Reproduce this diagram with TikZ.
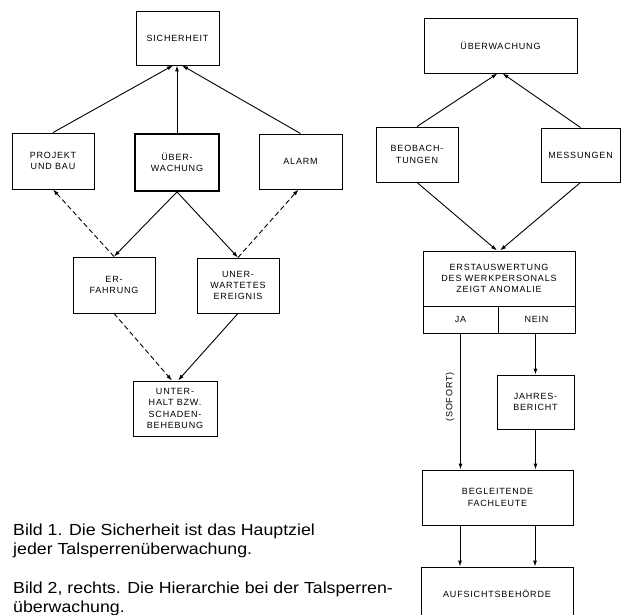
\documentclass[tikz,border=0pt]{standalone}
\usepackage{fontspec}
\setmainfont{Liberation Sans}
\newfontfamily\boxfont[LetterSpace=9]{Liberation Sans}
\newfontfamily\capfont[FakeStretch=1.11]{Liberation Sans}
\usetikzlibrary{arrows.meta}
\begin{document}
\begin{tikzpicture}[x=1pt,y=-1pt,
  bx/.style={draw, line width=0.9pt, inner sep=0pt, align=center,
    font=\boxfont\fontsize{9}{11.3}\selectfont},
  arr/.style={line width=0.9pt, -{Latex[length=6pt,width=4pt]}},
  dsh/.style={arr, dash pattern=on 5pt off 3pt},
  captxt/.style={anchor=base west, align=left, inner sep=0pt,
    font=\capfont\fontsize{16}{18.5}\selectfont}]
\useasboundingbox (0,0) rectangle (621,615);
\clip (0,0) rectangle (621,615);
\fill[white] (0,0) rectangle (621,615);

% ---------- left diagram ----------
\node[bx, minimum width=83pt, minimum height=54pt] (sich) at (177.5,38) {SICHERHEIT};
\node[bx, minimum width=82pt, minimum height=56pt] (proj) at (53,161) {PROJEKT\\UND BAU};
\node[bx, line width=1.8pt, minimum width=84pt, minimum height=57pt] (uebw) at (177,162.5) {ÜBER-\\WACHUNG};
\node[bx, minimum width=83pt, minimum height=55pt] (alarm) at (300.5,161.5) {ALARM};
\node[bx, minimum width=82pt, minimum height=56pt] (erf) at (114,285) {ER-\\FAHRUNG};
\node[bx, minimum width=82pt, minimum height=55pt] (uner) at (238,285.5) {UNER-\\WARTETES\\EREIGNIS};
\node[bx, minimum width=84pt, minimum height=55pt] (unter) at (175,408.5) {UNTER-\\HALT BZW.\\SCHADEN-\\BEHEBUNG};

\draw[arr] (proj.north) -- ([xshift=-4.5pt]sich.south);
\draw[arr] (uebw.north) -- (uebw.north |- sich.south);
\draw[arr] (alarm.north) -- ([xshift=4.5pt]sich.south);
\draw[arr] (uebw.south) -- (erf.north);
\draw[arr] (uebw.south) -- (uner.north);
\draw[dsh] (erf.north) -- (proj.south);
\draw[dsh] (uner.north) -- ([xshift=-2pt]alarm.south);
\draw[dsh] (erf.south) -- ([xshift=-3pt]unter.north);
\draw[arr] (uner.south) -- ([xshift=3pt]unter.north);

% ---------- right diagram ----------
\node[bx, minimum width=153pt, minimum height=55pt] (ueb2) at (500.5,45.5) {ÜBERWACHUNG};
\node[bx, minimum width=82pt, minimum height=55pt] (beob) at (417,154.5) {BEOBACH-\\TUNGEN};
\node[bx, minimum width=79pt, minimum height=54pt] (mess) at (580.5,155) {MESSUNGEN};
\node[bx, minimum width=152pt, minimum height=55pt] (erst) at (499,278.5) {ERSTAUSWERTUNG\\DES WERKPERSONALS\\ZEIGT ANOMALIE};
\node[bx, minimum width=75pt, minimum height=27pt] (ja) at (460.5,319.5) {JA};
\node[bx, minimum width=77pt, minimum height=27pt] (nein) at (536.5,319.5) {NEIN};
\node[bx, minimum width=77pt, minimum height=54pt] (jahr) at (535.5,402) {JAHRES-\\BERICHT};
\node[bx, minimum width=151pt, minimum height=55pt] (begl) at (497.5,497.5) {BEGLEITENDE\\FACHLEUTE};
\node[bx, minimum width=152pt, minimum height=54pt] (aufs) at (497,594) {AUFSICHTSBEHÖRDE};

\draw[arr] (beob.north) -- ([xshift=-3pt]ueb2.south);
\draw[arr] (mess.north) -- ([xshift=2pt]ueb2.south);
\draw[arr] (beob.south) -- ([xshift=-2pt]erst.north);
\draw[arr] (mess.south) -- ([xshift=1pt]erst.north);
\draw[arr] (ja.south) -- (ja.south |- begl.north);
\node[rotate=90, inner sep=0pt, font=\boxfont\fontsize{9}{11}\selectfont] (sof) at (450,397) {(SOFORT)};
\draw[arr] (jahr.north |- nein.south) -- (jahr.north);
\draw[arr] (jahr.south) -- (jahr.south |- begl.north);
\draw[arr] ([xshift=-37.5pt]begl.south) -- ([xshift=-37.5pt]begl.south |- aufs.north);
\draw[arr] ([xshift=37.5pt]begl.south) -- ([xshift=37.5pt]begl.south |- aufs.north);

% ---------- captions ----------
\node[captxt] (cap1) at (13,554) {Bild 1. Die Sicherheit ist das Hauptziel\\jeder Talsperrenüberwachung.};
\node[captxt] (cap2) at (13,612) {Bild 2, rechts. Die Hierarchie bei der Talsperren-\\überwachung.};
\end{tikzpicture}
\end{document}
